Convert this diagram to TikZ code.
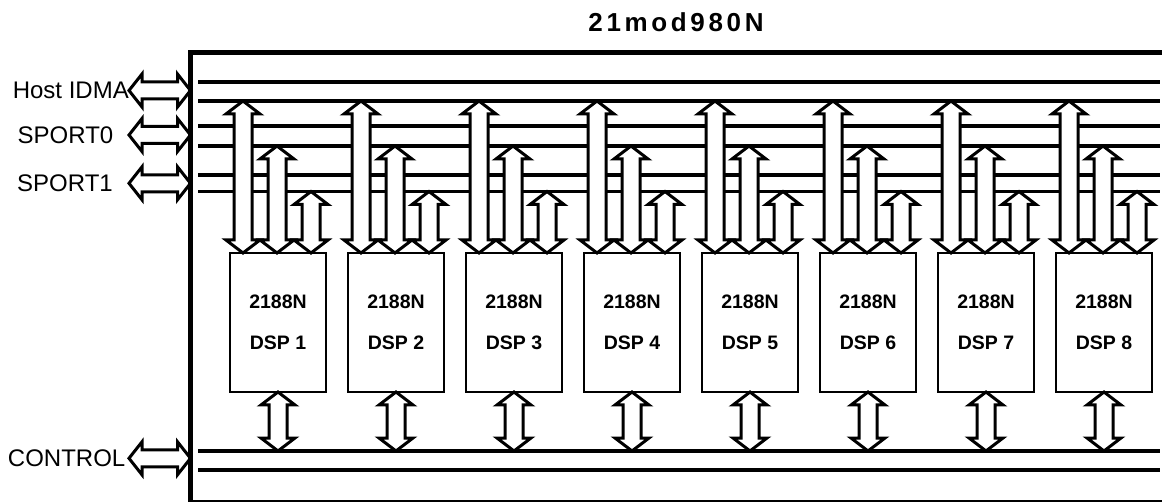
\documentclass[tikz,border=0pt]{standalone}
\usepackage{fontspec}
\setmainfont{Liberation Sans}
\newfontfamily\titlefont[LetterSpace=14]{Liberation Sans}
\usetikzlibrary{positioning,calc}

\tikzset{
  bus/.style={line width=3.1pt},
  link/.style={draw, fill=white, line width=3pt, line join=miter},
  dsp/.style={draw, line width=2.5pt, outer sep=0pt, minimum width=96pt,
    minimum height=139pt, align=center,
    font=\fontsize{19.5}{41}\selectfont\bfseries},
  port/.style={inner sep=0pt, font=\fontsize{24}{28}\selectfont},
}

% vertical double arrow, top tip #1, bottom tip #2
\newcommand{\vlink}[2]{%
  \draw[link] let \p1=(#1), \p2=(#2) in
    (\x1,\y1) -- ++(17pt,-13pt) -- ++(-8pt,0pt) -- (\x1+9pt,\y2+13pt)
    -- ++(8pt,0pt) -- (\x1,\y2) -- ++(-17pt,13pt) -- ++(8pt,0pt)
    -- (\x1-9pt,\y1-13pt) -- ++(-8pt,0pt) -- cycle;}

% horizontal double arrow, left tip #1, right tip #2
\newcommand{\hlink}[2]{%
  \draw[link] let \p1=(#1), \p2=(#2) in
    (\x1,\y1) -- ++(13pt,16.5pt) -- ++(0pt,-8pt) -- (\x2-13pt,\y1+8.5pt)
    -- ++(0pt,8pt) -- (\x2,\y1) -- ++(-13pt,-16.5pt) -- ++(0pt,8pt)
    -- (\x1+13pt,\y1-8.5pt) -- ++(0pt,-8pt) -- cycle;}

\begin{document}
\begin{tikzpicture}[x=1pt, y=-1pt]

    \useasboundingbox (0,0) rectangle (1162,502);

    % Title
    \node[font=\titlefont\bfseries\fontsize{26}{30}\selectfont] (title) at (676,22) {21mod980N};

    % Buses
    \foreach \name/\y in {idma1/82, idma2/101, sp0a/126, sp0b/146,
                          sp1a/175, sp1b/191.5, ctl1/451, ctl2/470} {
      \coordinate (\name) at (198,\y);
      \coordinate (\name-end) at (1160,\y);
      \draw[bus] (\name) -- (\name-end);
    }

    % DSPs
    \node[dsp]                    (dsp1) at (278,322.5) {2188N\\DSP 1};
    \node[dsp, right=22pt of dsp1] (dsp2) {2188N\\DSP 2};
    \node[dsp, right=22pt of dsp2] (dsp3) {2188N\\DSP 3};
    \node[dsp, right=22pt of dsp3] (dsp4) {2188N\\DSP 4};
    \node[dsp, right=22pt of dsp4] (dsp5) {2188N\\DSP 5};
    \node[dsp, right=22pt of dsp5] (dsp6) {2188N\\DSP 6};
    \node[dsp, right=22pt of dsp6] (dsp7) {2188N\\DSP 7};
    \node[dsp, right=22pt of dsp7] (dsp8) {2188N\\DSP 8};

    \foreach \i in {1,...,8} {
      \coordinate (a\i) at ($(dsp\i.north)+(-35,0)$);
      \coordinate (b\i) at ($(dsp\i.north)+(-1,0)$);
      \coordinate (c\i) at ($(dsp\i.north)+(33,0)$);
      \vlink{a\i |- idma2}{a\i}
      \vlink{b\i |- sp0b}{b\i}
      \vlink{c\i |- sp1b}{c\i}
      \vlink{dsp\i.south}{dsp\i.south |- ctl1}
    }

    % Ports
    \coordinate (frame) at (190.5,52.5);
    \coordinate (h0) at (129,90.5);
    \coordinate (h1) at (129,135);
    \coordinate (h2) at (129,183.3);
    \coordinate (h3) at (129,458.3);

    \node[port, left=0pt of h0]    (idma)  {Host IDMA};
    \node[port, left=15.5pt of h1] (sport0) {SPORT0};
    \node[port, left=16pt of h2]   (sport1) {SPORT1};
    \node[port, left=3.5pt of h3]  (control) {CONTROL};

    \hlink{h0}{h0 -| frame}
    \hlink{h1}{h1 -| frame}
    \hlink{h2}{h2 -| frame}
    \hlink{h3}{h3 -| frame}

    % Frame
    \draw[line width=5pt] (1175,52.5) -- (frame) -- (190.5,510);
    \draw[line width=1.5pt] (190.5,501) -- (1175,501);

\end{tikzpicture}
\end{document}
